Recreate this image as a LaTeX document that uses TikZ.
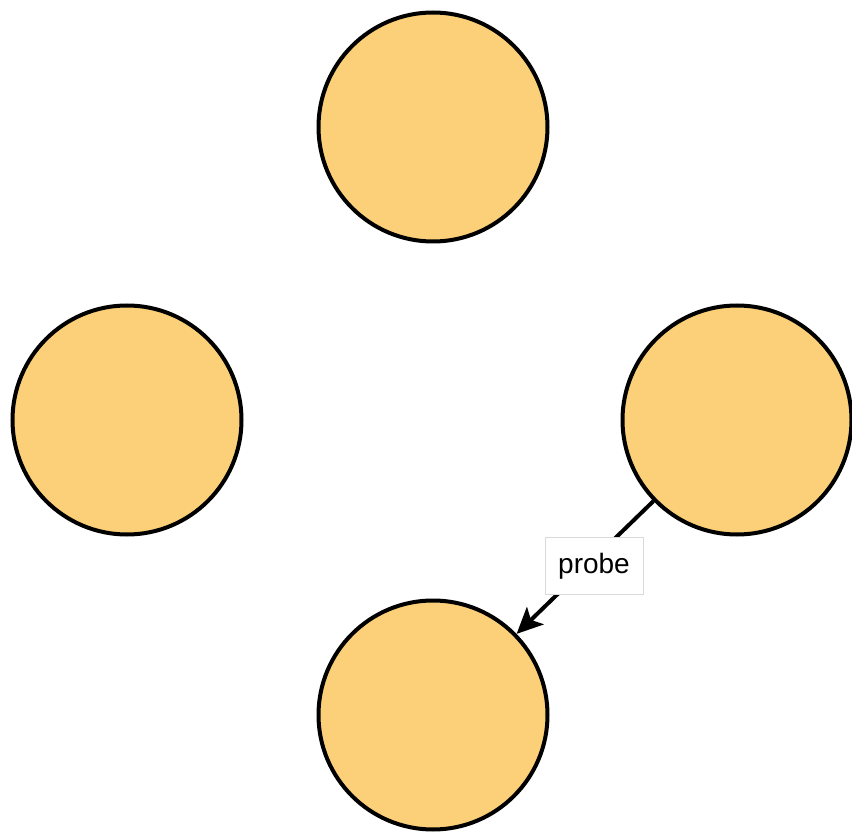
\documentclass[tikz,border=0pt]{standalone}
\usepackage{fontspec}
\setmainfont{Liberation Sans}
\usetikzlibrary{arrows.meta}
\definecolor{nodefill}{RGB}{252,208,120}
\tikzset{
  ball/.style={circle, draw=black, line width=4pt, fill=nodefill, minimum size=229pt, inner sep=0pt},
  edgelabel/.style={fill=white, draw=black!15, line width=0.8pt, minimum width=98pt, minimum height=57pt, inner sep=0pt, font=\fontsize{28}{32}\selectfont},
  conn/.style={line width=4pt, -{Stealth[length=26pt,width=24pt,inset=6pt]}}
}
\begin{document}
\begin{tikzpicture}[x=1pt,y=1pt]
\useasboundingbox (0,0) rectangle (852,-834);
\node[ball] (top) at (433,-127) {};
\node[ball] (left) at (127,-420) {};
\node[ball] (right) at (737,-420) {};
\node[ball] (bottom) at (433,-715) {};
\draw[conn] (right) -- (bottom);
\node[edgelabel] (lbl) at (594,-566) {probe};
\end{tikzpicture}
\end{document}
